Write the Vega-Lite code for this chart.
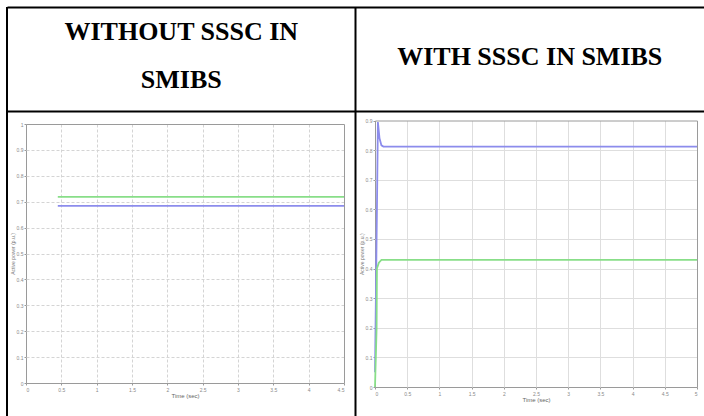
{
  "$schema": "https://vega.github.io/schema/vega-lite/v6.json",
  "width": 704,
  "height": 409,
  "autosize": "none",
  "padding": {"left": 0, "top": 7, "right": 0, "bottom": 0},
  "background": "white",
  "config": {"view": {"stroke": null}},
  "datasets": {
    "header": [
      {"panel": "without", "row": "head", "label": "WITHOUT SSSC IN|SMIBS"},
      {"panel": "with", "row": "head", "label": "WITH SSSC IN SMIBS"}
    ],
    "left": [
      {"t": 0.45, "v": 0.684, "s": "Line 1"},
      {"t": 4.5, "v": 0.684, "s": "Line 1"},
      {"t": 0.45, "v": 0.719, "s": "Line 2"},
      {"t": 4.5, "v": 0.719, "s": "Line 2"}
    ],
    "right": [
      {"t": 0.0, "v": 0.05, "s": "Line 1"},
      {"t": 0.03, "v": 0.6, "s": "Line 1"},
      {"t": 0.045, "v": 0.895, "s": "Line 1"},
      {"t": 0.07, "v": 0.84, "s": "Line 1"},
      {"t": 0.1, "v": 0.816, "s": "Line 1"},
      {"t": 0.13, "v": 0.812, "s": "Line 1"},
      {"t": 5.0, "v": 0.812, "s": "Line 1"},
      {"t": 0.0, "v": 0.0, "s": "Line 2"},
      {"t": 0.025, "v": 0.2, "s": "Line 2"},
      {"t": 0.03, "v": 0.4, "s": "Line 2"},
      {"t": 0.06, "v": 0.42, "s": "Line 2"},
      {"t": 0.1, "v": 0.429, "s": "Line 2"},
      {"t": 5.0, "v": 0.429, "s": "Line 2"}
    ]
  },
  "layer": [
    {
      "data": {"name": "header"},
      "encoding": {
        "x": {"field": "panel", "type": "nominal", "sort": null,
          "scale": {"type": "band", "domain": ["without", "with"], "range": [7, 704], "paddingInner": 0, "paddingOuter": 0},
          "axis": null},
        "y": {"field": "row", "type": "nominal", "sort": null,
          "scale": {"type": "band", "domain": ["head", "body"], "range": [0.5, 208.9], "paddingInner": 0, "paddingOuter": 0},
          "axis": {"values": ["head", "body"], "bandPosition": 0, "grid": true, "gridColor": "black", "gridWidth": 2, "gridOpacity": 1, "domain": false, "ticks": false, "labels": false, "title": null}}
      },
      "layer": [
        {
          "transform": [{"filter": "datum.panel === 'without'"}],
          "mark": {"type": "text", "font": "Liberation Serif", "fontWeight": "bold", "fontSize": 26, "lineBreak": "|", "lineHeight": 48, "dy": -28, "color": "black"},
          "encoding": {"text": {"field": "label"}}
        },
        {
          "transform": [{"filter": "datum.panel === 'with'"}],
          "mark": {"type": "text", "font": "Liberation Serif", "fontWeight": "bold", "fontSize": 26, "dy": -2.5, "color": "black"},
          "encoding": {"text": {"field": "label"}}
        },
        {
          "mark": {"type": "rule", "color": "black", "strokeWidth": 2},
          "encoding": {
            "x": {"field": "panel", "type": "nominal", "bandPosition": 0},
            "y": null
          }
        }
      ]
    },
    {
      "data": {"name": "left"},
      "layer": [
        {
          "mark": {"type": "line", "strokeWidth": 1.8},
          "encoding": {
            "x": {"field": "t", "type": "quantitative",
              "scale": {"domain": [0, 4.5], "range": [26, 344], "nice": false, "zero": false},
              "axis": {"orient": "bottom", "offset": -33, "values": [0, 0.5, 1, 1.5, 2, 2.5, 3, 3.5, 4, 4.5], "format": "~g",
                "grid": false, "domainColor": "#9a9a9a", "tickColor": "#9a9a9a", "tickSize": 2,
                "labelFontSize": 5, "labelColor": "#8a8a8a", "labelPadding": 2, "labelFont": "Liberation Sans",
                "title": "Time (sec)", "titleFontSize": 6, "titleFontWeight": "normal", "titleColor": "#666666", "titlePadding": 0, "titleFont": "Liberation Sans"}},
            "y": {"field": "v", "type": "quantitative",
              "scale": {"domain": [0, 1], "range": [376, 117], "nice": false, "zero": false},
              "axis": {"orient": "left", "offset": -26, "values": [0, 0.1, 0.2, 0.3, 0.4, 0.5, 0.6, 0.7, 0.8, 0.9, 1], "format": "~g",
                "grid": false, "domainColor": "#9a9a9a", "tickColor": "#9a9a9a", "tickSize": 2,
                "labelFontSize": 5, "labelColor": "#8a8a8a", "labelPadding": 1, "labelFont": "Liberation Sans",
                "title": "Active power (p.u.)", "titleFontSize": 5, "titleFontWeight": "normal", "titleColor": "#777777", "titlePadding": 1, "titleFont": "Liberation Sans"}},
            "color": {"field": "s", "type": "nominal", "scale": {"domain": ["Line 1", "Line 2"], "range": ["#8c8cec", "#88de88"]}, "legend": null}
          }
        },
        {
          "mark": {"type": "line", "opacity": 0},
          "encoding": {
            "x": {"field": "t", "type": "quantitative",
              "axis": {"orient": "top", "offset": -117, "values": [0.5, 1, 1.5, 2, 2.5, 3, 3.5, 4], "labels": false, "grid": false,
                "domainColor": "#9a9a9a", "tickColor": "#d4d4d4", "tickDash": [3, 2], "tickSize": -259, "title": null}},
            "y": {"field": "v", "type": "quantitative",
              "axis": {"orient": "right", "offset": -360, "values": [0.1, 0.2, 0.3, 0.4, 0.5, 0.6, 0.7, 0.8, 0.9], "labels": false, "grid": false,
                "domainColor": "#9a9a9a", "tickColor": "#d4d4d4", "tickDash": [3, 2], "tickSize": -318, "title": null}},
            "detail": {"field": "s"}
          }
        }
      ],
      "resolve": {"axis": {"x": "independent", "y": "independent"}}
    },
    {
      "data": {"name": "right"},
      "layer": [
        {
          "mark": {"type": "line", "strokeWidth": 1.8},
          "encoding": {
            "x": {"field": "t", "type": "quantitative",
              "scale": {"domain": [0, 5], "range": [375, 697], "nice": false, "zero": false},
              "axis": {"orient": "bottom", "offset": -29, "values": [0, 0.5, 1, 1.5, 2, 2.5, 3, 3.5, 4, 4.5, 5], "format": "~g",
                "grid": false, "domainColor": "#9a9a9a", "tickColor": "#9a9a9a", "tickSize": 2,
                "labelFontSize": 5, "labelColor": "#8a8a8a", "labelPadding": 2, "labelFont": "Liberation Sans",
                "title": "Time (sec)", "titleFontSize": 6, "titleFontWeight": "normal", "titleColor": "#666666", "titlePadding": 0, "titleFont": "Liberation Sans"}},
            "y": {"field": "v", "type": "quantitative",
              "scale": {"domain": [0, 0.9], "range": [380, 113.5], "nice": false, "zero": false},
              "axis": {"orient": "left", "offset": -375, "values": [0, 0.1, 0.2, 0.3, 0.4, 0.5, 0.6, 0.7, 0.8, 0.9], "format": "~g",
                "grid": false, "domainColor": "#9a9a9a", "tickColor": "#9a9a9a", "tickSize": 2,
                "labelFontSize": 5, "labelColor": "#8a8a8a", "labelPadding": 1, "labelFont": "Liberation Sans",
                "title": "Active power (p.u.)", "titleFontSize": 5, "titleFontWeight": "normal", "titleColor": "#777777", "titlePadding": 1, "titleFont": "Liberation Sans"}},
            "color": {"field": "s", "type": "nominal", "scale": {"domain": ["Line 1", "Line 2"], "range": ["#8c8cec", "#88de88"]}, "legend": null}
          }
        },
        {
          "mark": {"type": "line", "opacity": 0},
          "encoding": {
            "x": {"field": "t", "type": "quantitative",
              "axis": {"orient": "top", "offset": -113.5, "values": [0.5, 1, 1.5, 2, 2.5, 3, 3.5, 4, 4.5], "labels": false, "grid": false,
                "domainColor": "#9a9a9a", "tickColor": "#dedede", "tickSize": -266.5, "title": null}},
            "y": {"field": "v", "type": "quantitative",
              "axis": {"orient": "right", "offset": -7, "values": [0.1, 0.2, 0.3, 0.4, 0.5, 0.6, 0.7, 0.8], "labels": false, "grid": false,
                "domainColor": "#9a9a9a", "tickColor": "#dedede", "tickSize": -322, "title": null}},
            "detail": {"field": "s"}
          }
        }
      ],
      "resolve": {"axis": {"x": "independent", "y": "independent"}}
    }
  ],
  "resolve": {"scale": {"x": "independent", "y": "independent"}}
}
